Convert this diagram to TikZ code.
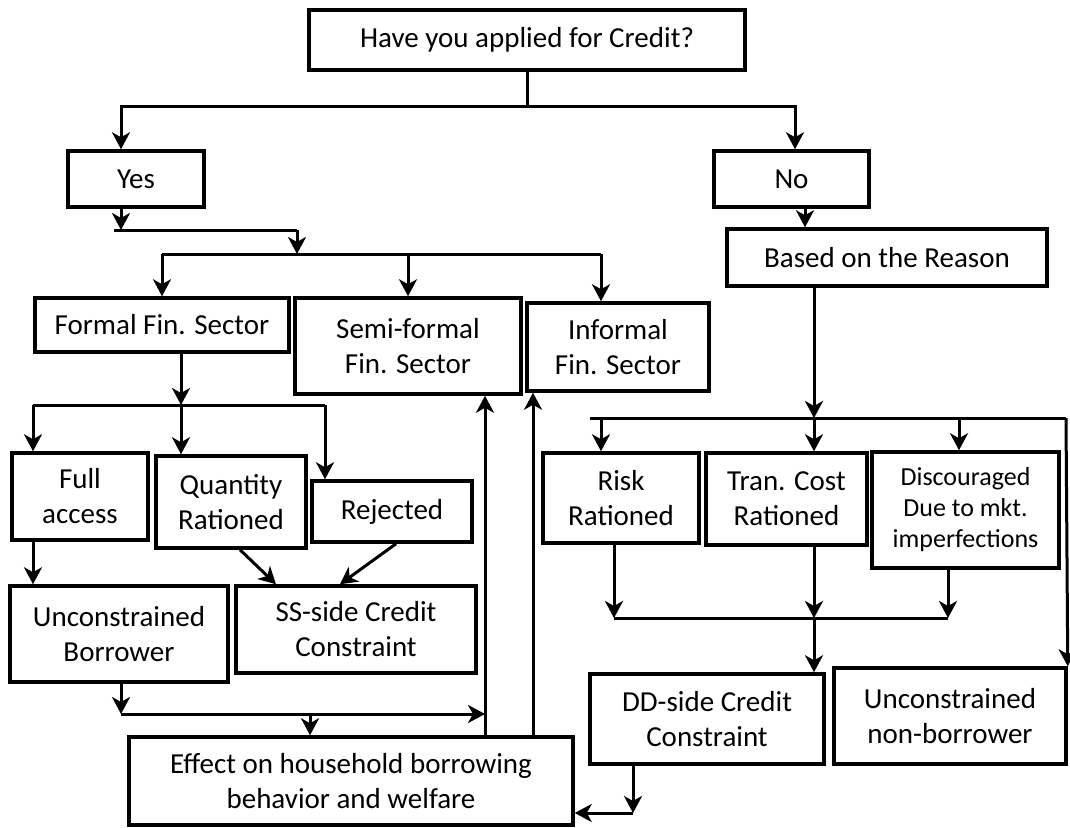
\documentclass[tikz,border=0pt]{standalone}
\usepackage{fontspec}
\setmainfont{Carlito}
\usetikzlibrary{arrows.meta}
\tikzset{block/.style = {rectangle, draw, line width=3.5pt, align=center, inner sep=0pt,
		font=\fontsize{29}{35}\selectfont},
	small/.style    = {font=\fontsize{26}{31}\selectfont},
	line/.style     = {draw, line width=3pt, -{Stealth[length=17pt,width=18pt,inset=5pt]}},
	bus/.style      = {draw, line width=3pt}
}

\begin{document}
\begin{tikzpicture}[x=1pt, y=-1pt]
		\useasboundingbox (0,0) rectangle (1070,827);
		% boxes
		\node [block, minimum width=436pt, minimum height=60pt] (ask) at (527,40) {Have you applied for Credit?};
		\node [block, minimum width=136pt, minimum height=56pt] (yes) at (136,179) {Yes};
		\node [block, minimum width=155pt, minimum height=56pt] (no) at (791.5,179) {No};
		\node [block, minimum width=320pt, minimum height=57pt] (reason) at (887,257.5) {Based on the Reason};
		\node [block, minimum width=254pt, minimum height=54pt] (formal) at (162,325) {Formal Fin. Sector};
		\node [block, minimum width=226pt, minimum height=96pt] (semi) at (408,346) {Semi-formal\\Fin. Sector};
		\node [block, minimum width=182pt, minimum height=88pt] (informal) at (618,347) {Informal\\Fin. Sector};
		\node [block, minimum width=136pt, minimum height=87pt] (full) at (80,496.5) {Full\\access};
		\node [block, minimum width=150pt, minimum height=92pt] (qty) at (231,502) {Quantity\\Rationed};
		\node [block, minimum width=160pt, minimum height=61pt] (rej) at (392,511.5) {Rejected};
		\node [block, minimum width=156pt, minimum height=90pt] (risk) at (621,498) {Risk\\Rationed};
		\node [block, minimum width=161pt, minimum height=92pt] (tran) at (786.5,499) {Tran. Cost\\Rationed};
		\node [block, small, minimum width=187pt, minimum height=116pt] (disc) at (965.5,510) {Discouraged\\Due to mkt.\\imperfections};
		\node [block, minimum width=218pt, minimum height=96pt] (ub) at (119,634) {Unconstrained\\Borrower};
		\node [block, minimum width=240pt, minimum height=87pt] (ss) at (356,629.5) {SS-side Credit\\Constraint};
		\node [block, minimum width=234pt, minimum height=90pt] (dd) at (707,719) {DD-side Credit\\Constraint};
		\node [block, minimum width=232pt, minimum height=96pt] (unb) at (950,716) {Unconstrained\\non-borrower};
		\node [block, minimum width=444pt, minimum height=88pt] (eff) at (351,781) {Effect on household borrowing\\behavior and welfare};
		% junctions
		\coordinate (tyes) at (121,106);
		\coordinate (tno) at (795,106);
		\coordinate (y0) at (114,230);
		\coordinate (y1) at (121,230);
		\coordinate (y2) at (297,230);
		\coordinate (y3) at (297,254);
		\coordinate (s3) at (601,254);
		\coordinate (fb) at (181,405);
		\coordinate (fFull) at (33,405);
		\coordinate (fRej) at (325,405);
		\coordinate (r0) at (590,418);
		\coordinate (rRisk) at (601,418);
		\coordinate (rTran) at (814,418);
		\coordinate (rDisc) at (959,418);
		\coordinate (r2) at (1066,418);
		\coordinate (dRisk) at (614,618);
		\coordinate (dTran) at (814,618);
		\coordinate (dDisc) at (948,618);
		\coordinate (dE) at (633,813);
		\coordinate (u1) at (121,714);
		\coordinate (u2) at (485,714);
		\coordinate (u3) at (310,714);
		\coordinate (v2) at (533,714);
		% yes / no
		\path[line] (ask.south) |- (tyes) -- (tyes |- yes.north);
		\path[line] (ask.south) |- (tno) -- (tno |- no.north);
		\path[line] (tyes |- yes.south) -- (y1);
		\draw[bus] (y0) -- (y2);
		\path[line] (y2) -- (y3);
		\draw[bus] (y3 -| formal.north) -- (s3);
		\path[line] (y3 -| formal.north) -- (formal.north);
		\path[line] (y3 -| semi.north) -- (semi.north);
		\path[line] (s3) -- (s3 |- informal.north);
		\path[line] ([xshift=13.5pt]no.south) -- ([xshift=13.5pt]no.south |- reason.north);
		% formal sector
		\path[line] (fb |- formal.south) -- (fb);
		\path[line] (fb) -- (fb |- qty.north);
		\draw[bus] (fFull) -- (fRej);
		\path[line] (fFull) -- (fFull |- full.north);
		\path[line] (fRej) -- (fRej |- rej.north);
		\path[line] ([xshift=9pt]qty.south) -- ([xshift=-80pt]ss.north);
		\path[line] ([xshift=4pt]rej.south) -- ([xshift=-16pt]ss.north);
		\path[line] (fFull |- full.south) -- (fFull |- ub.north);
		\path[line] (u1 |- ub.south) -- (u1);
		\path[line] (u1) -- (u2);
		\path[line] (u3) -- (u3 |- eff.north);
		\path[line] (u2 |- eff.north) -- (u2 |- semi.south);
		\path[line] (v2 |- eff.north) -- (v2 |- informal.south);
		% reasons
		\path[line] (rTran |- reason.south) -- (rTran);
		\draw[bus] (r0) -- (r2);
		\path[line] (rRisk) -- (rRisk |- risk.north);
		\path[line] (rTran) -- (rTran |- tran.north);
		\path[line] (rDisc) -- (rDisc |- disc.north);
		\path[line] (r2) -- (unb.north east);
		\path[line] (dRisk |- risk.south) -- (dRisk);
		\path[line] (dTran |- tran.south) -- (dTran);
		\path[line] (dDisc |- disc.south) -- (dDisc);
		\draw[bus] (dRisk) -- (dDisc);
		\path[line] (dTran) -- (dTran |- dd.north);
		\path[line] (dE |- dd.south) -- (dE);
		\path[line] (dE) -- (eff.east |- dE);
	\end{tikzpicture}
\end{document}
